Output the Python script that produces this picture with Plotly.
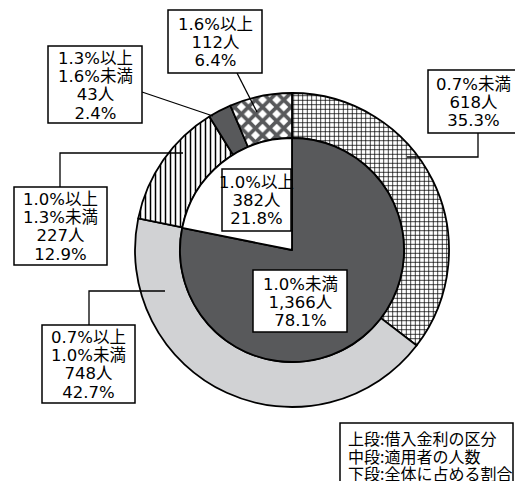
import plotly.graph_objects as go

W, H = 523, 481
OFF = 8  # page body margin offset

# ---- data ----
outer_labels = ["0.7%未満", "0.7%以上<br>1.0%未満", "1.0%以上<br>1.3%未満", "1.3%以上<br>1.6%未満", "1.6%以上"]
outer_counts = ["618人", "748人", "227人", "43人", "112人"]
outer_pct = [35.3, 42.7, 12.9, 2.4, 6.4]

inner_labels = ["1.0%未満", "1.0%以上"]
inner_counts = ["1,366人", "382人"]
inner_pct = [78.1, 21.8]

legend_lines = ["上段:借入金利の区分", "中段:適用者の人数", "下段:全体に占める割合"]

DARK = "#58595b"
LIGHT = "#d1d2d4"
FONT = "DejaVu Sans, Noto Sans CJK JP, sans-serif"


def px(x):
    return (x - OFF) / W


def py(y):
    return 1 - (y - OFF) / H


def dom(cx, cy, r):
    return dict(x=[px(cx - r), px(cx + r)], y=[py(cy + r), py(cy - r)])


CX, CY, R_OUT, R_IN = 292, 250, 157, 112

fig = go.Figure()

fig.add_trace(go.Pie(
    values=outer_pct,
    labels=[l.replace("<br>", "") for l in outer_labels],
    sort=False, direction="clockwise", rotation=0,
    hole=R_IN / R_OUT,
    domain=dom(CX, CY, R_OUT),
    textinfo="none", hoverinfo="skip",
    marker=dict(
        colors=["white", LIGHT, "white", DARK, "white"],
        line=dict(color="black", width=1.8),
        pattern=dict(
            shape=["+", "", "|", "", "x"],
            fgcolor=["black", LIGHT, "black", DARK, DARK],
            bgcolor=["white", LIGHT, "white", DARK, "white"],
            size=[4.5, 8, 5, 8, 10],
            solidity=[0.3, 0.0, 0.3, 0.0, 0.6],
            fillmode="replace",
        ),
    ),
    showlegend=False,
))

fig.add_trace(go.Pie(
    values=inner_pct,
    labels=inner_labels,
    sort=False, direction="clockwise", rotation=0,
    domain=dom(CX, CY, R_IN),
    textinfo="none", hoverinfo="skip",
    marker=dict(colors=[DARK, "white"], line=dict(color="black", width=1.8)),
    showlegend=False,
))

annotations = []
shapes = []


def big(t, size):
    return f"<span style='font-size:{size}px'>{t}</span>"


def line(pts):
    path = "M " + " L ".join(f"{px(x)},{py(y)}" for x, y in pts)
    shapes.append(dict(type="path", path=path, xref="paper", yref="paper",
                       line=dict(color="black", width=1.3)))


def box(lines, x0, y0, x1, y1):
    shapes.append(dict(type="rect", xref="paper", yref="paper",
                       x0=px(x0), x1=px(x1), y0=py(y1), y1=py(y0),
                       line=dict(color="black", width=1.5), fillcolor="white"))
    text = "<br>".join(big(t, 16.5) for t in lines)
    annotations.append(dict(
        text=text, x=px((x0 + x1) / 2), y=py((y0 + y1) / 2 + 1),
        xref="paper", yref="paper",
        xanchor="center", yanchor="middle", showarrow=False,
        font=dict(family=FONT, size=14, color="black"),
        align="center",
    ))


# leader lines
line([(478, 133), (478, 157), (407, 157)])
line([(237, 73), (257, 112)])
line([(142, 92), (213, 116)])
line([(60, 187), (60, 153), (183, 153)])
line([(89, 325), (89, 291), (165, 291)])

box_rects = [(428, 70, 519, 133), (42, 325, 135, 403), (14, 187, 107, 265),
             (48, 46, 142, 123), (168, 10, 262, 73)]
for lab, cnt, pct, r in zip(outer_labels, outer_counts, outer_pct, box_rects):
    box(lab.split("<br>") + [cnt, f"{pct:.1f}%"], *r)

inner_rects = [(253, 270, 347, 332), (222, 169, 291, 231)]
for lab, cnt, pct, r in zip(inner_labels, inner_counts, inner_pct, inner_rects):
    box([lab, cnt, f"{pct:.1f}%"], *r)

# explanatory note box
shapes.append(dict(type="rect", xref="paper", yref="paper",
                   x0=px(340), x1=px(513), y0=py(500), y1=py(423),
                   line=dict(color="black", width=1.5), fillcolor="white"))
for i, t in enumerate(legend_lines):
    annotations.append(dict(
        text=t, x=px(346), y=py(438 + 17.5 * i), xref="paper", yref="paper",
        xanchor="left", yanchor="middle", showarrow=False,
        font=dict(family="Noto Sans CJK JP", size=16, color="black"),
    ))

fig.update_layout(
    width=W, height=H,
    margin=dict(l=0, r=0, t=0, b=0),
    paper_bgcolor="white", plot_bgcolor="white",
    shapes=shapes, annotations=annotations,
    showlegend=False,
)

fig.write_html("out.html")
